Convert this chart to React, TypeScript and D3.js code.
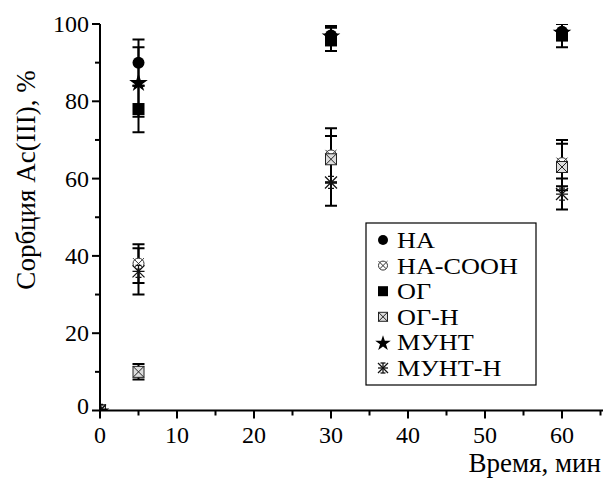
import React from "react";
import * as d3 from "d3";

// Contact time, min
const times = [0, 5, 30, 60];

const seriesNames = ["НА", "НА-СООН", "ОГ", "ОГ-Н", "МУНТ", "МУНТ-Н"];
const seriesKinds = ["circle", "circleX", "square", "squareX", "star", "asterisk"];

// Sorption of Ac(III), % (mean values)
const valNA = [0, 90, 97, 98];
const valNACOOH = [0, 38, 66, 64];
const valOG = [0, 78, 96, 97];
const valOGH = [0, 10, 65, 63];
const valMUNT = [0, 85, 97, 98];
const valMUNTH = [0, 36, 59, 56];

// Standard deviations
const errNA = [0, 6, 2.5, 2];
const errNACOOH = [0, 5, 7, 6];
const errOG = [0, 6, 3, 3];
const errOGH = [0, 2, 6, 6];
const errMUNT = [0, 9, 2.5, 2];
const errMUNTH = [0, 6, 6, 4];

const allValues = [valNA, valNACOOH, valOG, valOGH, valMUNT, valMUNTH];
const allErrors = [errNA, errNACOOH, errOG, errOGH, errMUNT, errMUNTH];

const xTickLabels = [0, 10, 20, 30, 40, 50, 60];
const yTickLabels = [0, 20, 40, 60, 80, 100];

const W = 603;
const H = 478;
const FONT = '"Liberation Serif"';

const x = d3.scaleLinear().domain([0, 65]).range([100, 600.5]);
const y = d3.scaleLinear().domain([0, 100]).range([410.5, 24]);

function Marker({ kind, cx, cy, s }: { kind: string; cx: number; cy: number; s: number }) {
  const h = s / 2;
  if (kind === "circle") {
    return <circle cx={cx} cy={cy} r={h} fill="#000" />;
  }
  if (kind === "square") {
    return <rect x={cx - h} y={cy - h} width={s} height={s} fill="#000" />;
  }
  if (kind === "star") {
    const p = d3.symbol().type(d3.symbolStar).size(s * s * 0.75)();
    return <path d={p || ""} transform={`translate(${cx},${cy + 1})`} fill="#000" />;
  }
  if (kind === "circleX") {
    const r = h - 0.5;
    const k = r * 0.7;
    return (
      <g stroke="#333" strokeWidth={1} fill="#fff">
        <circle cx={cx} cy={cy} r={r} />
        <line x1={cx - k} y1={cy - k} x2={cx + k} y2={cy + k} />
        <line x1={cx - k} y1={cy + k} x2={cx + k} y2={cy - k} />
        <line x1={cx - r} y1={cy - r} x2={cx - k} y2={cy - k} />
        <line x1={cx + r} y1={cy - r} x2={cx + k} y2={cy - k} />
      </g>
    );
  }
  if (kind === "squareX") {
    const r = h - 0.5;
    return (
      <g stroke="#222" strokeWidth={1} fill="#ddd">
        <rect x={cx - r} y={cy - r} width={2 * r} height={2 * r} />
        <line x1={cx - r} y1={cy - r} x2={cx + r} y2={cy + r} />
        <line x1={cx - r} y1={cy + r} x2={cx + r} y2={cy - r} />
      </g>
    );
  }
  // asterisk-like cross with bars
  const r = h;
  return (
    <g stroke="#111" strokeWidth={1.3}>
      <line x1={cx - r} y1={cy - r} x2={cx + r} y2={cy + r} />
      <line x1={cx - r} y1={cy + r} x2={cx + r} y2={cy - r} />
      <line x1={cx} y1={cy - r} x2={cx} y2={cy + r} />
      <line x1={cx - r} y1={cy} x2={cx + r} y2={cy} />
      <line x1={cx - r * 0.5} y1={cy - r} x2={cx + r * 0.5} y2={cy - r} />
      <line x1={cx - r * 0.5} y1={cy + r} x2={cx + r * 0.5} y2={cy + r} />
    </g>
  );
}

export default function App() {
  const xMinor = d3.range(5, 66, 10);
  const yMinor = d3.range(10, 100, 20);
  const legendTop = 240;
  const legendStep = 25.6;
  const tickStyle = { fontFamily: FONT, fontSize: "24px" };
  const titleStyle = { fontFamily: FONT, fontSize: "27px" };
  const legendStyle = { fontFamily: FONT, fontSize: "23px" };

  return (
    <svg width={W} height={H} style={{ position: "absolute", left: 0, top: 0, background: "#fff" }}>
      <defs>
        <clipPath id="plotArea">
          <rect x={x(0)} y={y(100)} width={x(65) - x(0)} height={y(0) - y(100)} />
        </clipPath>
      </defs>

      {/* error bars */}
      <g clipPath="url(#plotArea)" stroke="#000">
        {allValues.map((vals, si) =>
          vals.map((v, i) => {
            const e = allErrors[si][i];
            if (!e) return null;
            const cx = x(times[i]);
            return (
              <g key={`e${si}-${i}`}>
                <line x1={cx} x2={cx} y1={y(v - e)} y2={y(v + e)} strokeWidth={2} />
                <line x1={cx - 6} x2={cx + 6} y1={y(v - e)} y2={y(v - e)} strokeWidth={2} />
                <line x1={cx - 6} x2={cx + 6} y1={y(v + e)} y2={y(v + e)} strokeWidth={2} />
              </g>
            );
          })
        )}
      </g>

      {/* markers */}
      <g clipPath="url(#plotArea)">
        {allValues.map((vals, si) =>
          vals.map((v, i) => (
            <Marker key={`m${si}-${i}`} kind={seriesKinds[si]} cx={x(times[i])} cy={y(v)} s={12} />
          ))
        )}
      </g>

      {/* axes */}
      <g stroke="#000" strokeWidth={2}>
        <line x1={x(0)} x2={x(0)} y1={y(100)} y2={y(0) + 1} />
        <line x1={x(0) - 1} x2={W} y1={y(0)} y2={y(0)} />
        {xTickLabels.map((t) => (
          <line key={`xt${t}`} x1={x(t)} x2={x(t)} y1={y(0)} y2={y(0) + 8} />
        ))}
        {xMinor.map((t) => (
          <line key={`xm${t}`} x1={x(t)} x2={x(t)} y1={y(0)} y2={y(0) + 5} />
        ))}
        {yTickLabels.map((t) => (
          <line key={`yt${t}`} x1={x(0) - 8} x2={x(0)} y1={y(t)} y2={y(t)} />
        ))}
        {yMinor.map((t) => (
          <line key={`ym${t}`} x1={x(0) - 5} x2={x(0)} y1={y(t)} y2={y(t)} />
        ))}
      </g>

      <g fill="#000">
        {xTickLabels.map((t) => (
          <text key={`xl${t}`} x={x(t)} y={y(0) + 32} textAnchor="middle" style={tickStyle}>
            {t}
          </text>
        ))}
        {yTickLabels.map((t) => (
          <text key={`yl${t}`} x={x(0) - 11} y={y(t) + 8 - (t === 0 ? 5 : 0)} textAnchor="end" style={tickStyle}>
            {t}
          </text>
        ))}
        <text x={601} y={472} textAnchor="end" style={titleStyle}>
          Время, мин
        </text>
        <text transform="translate(35,180) rotate(-90)" textAnchor="middle" style={titleStyle}>
          Сорбция Ac(III), %
        </text>
      </g>

      {/* legend */}
      <rect x={366} y={223} width={170} height={162} fill="#fff" stroke="#000" strokeWidth={1.2} />
      {seriesNames.map((name, i) => (
        <g key={name}>
          <Marker kind={seriesKinds[i]} cx={383} cy={legendTop + i * legendStep} s={10} />
          <text
            transform={`translate(397,${legendTop + i * legendStep + 8}) scale(1.14,1)`}
            style={legendStyle}
            fill="#000"
          >
            {name}
          </text>
        </g>
      ))}
    </svg>
  );
}
